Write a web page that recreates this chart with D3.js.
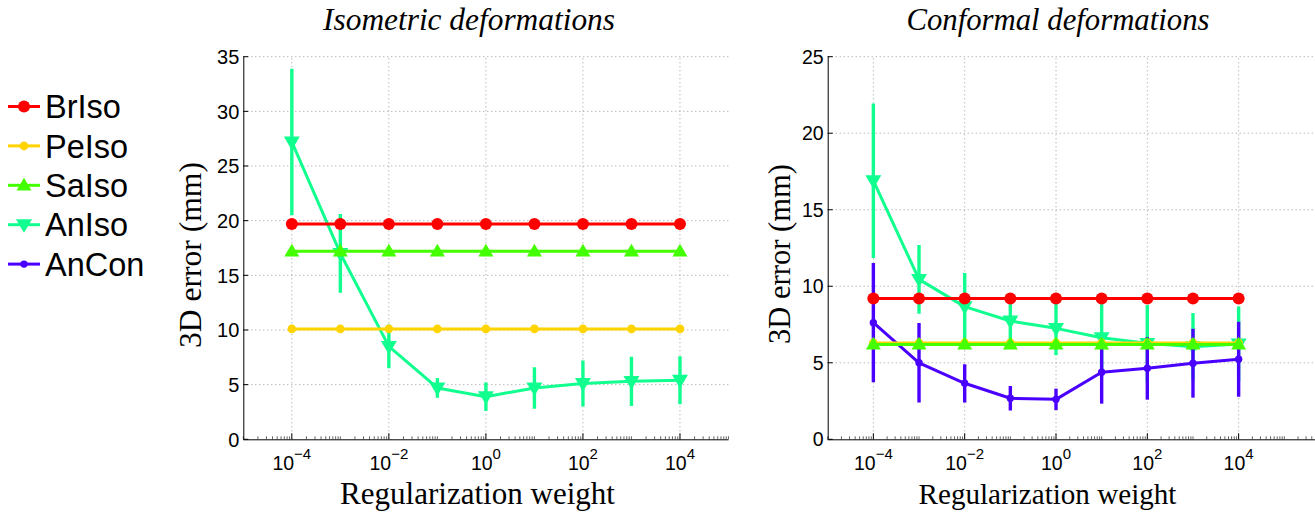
<!DOCTYPE html>
<html><head><meta charset="utf-8">
<script src="https://cdn.jsdelivr.net/npm/d3@7"></script>
<style>html,body{margin:0;padding:0;background:#fff;}svg{display:block;}</style>
</head><body>
<svg id="chart" width="1315" height="512"></svg>
<script>
// ---------- data ----------
const weights = [1e-4, 1e-3, 1e-2, 1e-1, 1e0, 1e1, 1e2, 1e3, 1e4];
const tickExponents = [-4, -2, 0, 2, 4];
const isoYTicks = [0, 5, 10, 15, 20, 25, 30, 35];
const confYTicks = [0, 5, 10, 15, 20, 25];

const seriesNames = ["BrIso", "PeIso", "SaIso", "AnIso", "AnCon"];
const seriesColors = ["#ff0000", "#ffd400", "#44ff00", "#11ff8e", "#4a00ff"];

// Isometric deformations
const isoBrIso = [19.7, 19.7, 19.7, 19.7, 19.7, 19.7, 19.7, 19.7, 19.7];
const isoPeIso = [10.1, 10.1, 10.1, 10.1, 10.1, 10.1, 10.1, 10.1, 10.1];
const isoSaIso = [17.2, 17.2, 17.2, 17.2, 17.2, 17.2, 17.2, 17.2, 17.2];
const isoAnIso = [27.2, 17.0, 8.5, 4.7, 3.9, 4.7, 5.1, 5.3, 5.4];
const isoAnIsoErr = [6.7, 3.6, 2.0, 0.9, 1.3, 1.9, 2.1, 2.25, 2.2];

// Conformal deformations
const confBrIso = [9.2, 9.2, 9.2, 9.2, 9.2, 9.2, 9.2, 9.2, 9.2];
const confPeIso = [6.3, 6.3, 6.3, 6.3, 6.3, 6.3, 6.3, 6.3, 6.3];
const confSaIso = [6.2, 6.2, 6.2, 6.2, 6.2, 6.2, 6.2, 6.2, 6.2];
const confAnIso = [16.9, 10.45, 8.67, 7.73, 7.25, 6.64, 6.27, 6.05, 6.23];
const confAnIsoErr = [5.05, 2.25, 2.2, 1.3, 1.75, 2.4, 2.5, 2.2, 2.45];
const confAnCon = [7.62, 5.0, 3.66, 2.68, 2.61, 4.38, 4.64, 4.97, 5.23];
const confAnConErr = [3.9, 2.6, 1.25, 0.8, 0.7, 2.05, 2.05, 2.25, 2.45];

// ---------- drawing ----------
const svg = d3.select("#chart");
const SANS = "'Liberation Sans', Arial, Helvetica, sans-serif";
const SERIF = "'Liberation Serif', 'Times New Roman', serif";

function fitText(t, target, base) {
  t.attr("font-size", base);
  const w = t.node().getComputedTextLength();
  t.attr("font-size", base * target / w);
}

function markerPath(type, size) {
  const w = size, h = size * 0.85;
  if (type === "triUp") return `M0,${-h*0.6}L${w/2},${h*0.4}L${-w/2},${h*0.4}Z`;
  if (type === "triDown") return `M0,${h*0.6}L${w/2},${-h*0.4}L${-w/2},${-h*0.4}Z`;
  return null;
}

const styles = {
  BrIso: {color: seriesColors[0], marker: "circle", r: 6},
  PeIso: {color: seriesColors[1], marker: "circle", r: 4.3},
  SaIso: {color: seriesColors[2], marker: "triUp", size: 15},
  AnIso: {color: seriesColors[3], marker: "triDown", size: 16},
  AnCon: {color: seriesColors[4], marker: "circle", r: 3.7}
};

function drawMarker(g, name, x, y) {
  const s = styles[name];
  if (s.marker === "circle") {
    g.append("circle").attr("cx", x).attr("cy", y).attr("r", s.r).attr("fill", s.color);
  } else {
    g.append("path").attr("d", markerPath(s.marker, s.size))
      .attr("transform", `translate(${x},${y})`).attr("fill", s.color);
  }
}

function panel(cfg) {
  const x = d3.scaleLog().domain(cfg.xDomain).range(cfg.xRange);
  const y = d3.scaleLinear().domain(cfg.yDomain).range([439.3, 56.7]);
  const g = svg.append("g");
  const x0 = cfg.xRange[0], x1 = cfg.xRange[1];
  const clipId = "clip" + cfg.id;
  svg.append("clipPath").attr("id", clipId).append("rect")
    .attr("x", x0 - 10).attr("y", 40).attr("width", x1 - x0 + 20).attr("height", 410);

  // grid
  const grid = g.append("g").attr("stroke", "#9a9a9a").attr("stroke-width", 1)
    .attr("stroke-dasharray", "1,3");
  cfg.yTicks.filter(v => v > 0).forEach(v => {
    grid.append("line").attr("x1", x0).attr("x2", x1).attr("y1", y(v)).attr("y2", y(v));
  });
  tickExponents.forEach(e => {
    const xv = x(Math.pow(10, e));
    grid.append("line").attr("x1", xv).attr("x2", xv).attr("y1", y(0)).attr("y2", y(cfg.yDomain[1]));
  });

  // axes
  const ax = g.append("g").attr("stroke", "#000").attr("stroke-width", 1).attr("fill", "none");
  ax.append("line").attr("x1", x0).attr("x2", x1).attr("y1", y(0) + 0.5).attr("y2", y(0) + 0.5);
  ax.append("line").attr("x1", x0 + 0.5).attr("x2", x0 + 0.5).attr("y1", y(0)).attr("y2", y(cfg.yDomain[1]));
  cfg.yTicks.forEach(v => {
    ax.append("line").attr("x1", x0).attr("x2", x0 + 5).attr("y1", y(v)).attr("y2", y(v));
  });
  const [lo, hi] = cfg.xDomain;
  for (let e = Math.floor(Math.log10(lo)); e <= Math.ceil(Math.log10(hi)); e++) {
    for (let m = 1; m <= 9; m++) {
      const v = m * Math.pow(10, e);
      if (v < lo || v > hi) continue;
      const major = m === 1 && tickExponents.includes(e);
      const len = major ? 6 : 3;
      ax.append("line").attr("x1", x(v)).attr("x2", x(v))
        .attr("y1", y(0)).attr("y2", y(0) - len).attr("stroke-width", major ? 1 : 0.6);
    }
  }
  cfg.yTicks.forEach(v => {
    g.append("text").attr("x", x0 - 4).attr("y", y(v)).attr("dy", "0.36em")
      .attr("text-anchor", "end").attr("font-family", SANS).attr("font-size", cfg.tickFont)
      .attr("fill", "#000").text(v);
  });
  tickExponents.forEach(e => {
    const t = g.append("text").attr("x", x(Math.pow(10, e))).attr("y", 469.5)
      .attr("text-anchor", "middle").attr("font-family", SANS).attr("font-size", 19.5).attr("fill", "#000");
    t.append("tspan").text("10");
    t.append("tspan").attr("font-size", 15).attr("dy", -11).text(e < 0 ? "\u2212" + (-e) : String(e));
  });

  // series
  const data = g.append("g").attr("clip-path", `url(#${clipId})`);
  const line = d3.line().x((d, i) => x(weights[i])).y(d => y(d));
  cfg.series.forEach(s => {
    const st = styles[s.name];
    const sg = data.append("g");
    if (s.err) {
      s.values.forEach((v, i) => {
        sg.append("line").attr("x1", x(weights[i])).attr("x2", x(weights[i]))
          .attr("y1", y(v - s.err[i])).attr("y2", y(v + s.err[i]))
          .attr("stroke", st.color).attr("stroke-width", 3.4);
      });
    }
    sg.append("path").datum(s.values).attr("d", line).attr("fill", "none")
      .attr("stroke", st.color).attr("stroke-width", 3).attr("stroke-linejoin", "round");
    s.values.forEach((v, i) => drawMarker(sg, s.name, x(weights[i]), y(v)));
  });

  const title = svg.append("text").attr("x", cfg.titleX).attr("y", 30).attr("text-anchor", "middle")
    .attr("font-family", SERIF).attr("font-style", "italic").attr("fill", "#000").text(cfg.title);
  fitText(title, cfg.titleW, 24);
  const xl = svg.append("text").attr("x", cfg.xlabX).attr("y", 504).attr("text-anchor", "middle")
    .attr("font-family", SERIF).attr("fill", "#000").text("Regularization weight");
  fitText(xl, cfg.xlabW, 26);
  const yl = svg.append("text").attr("transform", `translate(${cfg.ylabX},${cfg.ylabY}) rotate(-90)`)
    .attr("text-anchor", "middle").attr("font-family", SERIF).attr("fill", "#000").text("3D error (mm)");
  fitText(yl, cfg.ylabW, 26);
}

panel({
  id: "iso", xDomain: [1e-5, 1e5], xRange: [243.3, 728.5], yDomain: [0, 35], yTicks: isoYTicks,
  tickFont: 20,
  title: "Isometric deformations", titleX: 469, titleW: 292,
  xlabX: 477.5, xlabW: 275, ylabX: 201, ylabY: 255, ylabW: 186,
  series: [
    {name: "AnIso", values: isoAnIso, err: isoAnIsoErr},
    {name: "PeIso", values: isoPeIso},
    {name: "SaIso", values: isoSaIso},
    {name: "BrIso", values: isoBrIso}
  ]
});

panel({
  id: "conf", xDomain: [1e-5, Math.pow(10, 5.8)], xRange: [827.7, 827.7 + 10.8 * 45.66], yDomain: [0, 25], yTicks: confYTicks,
  tickFont: 19.5,
  title: "Conformal deformations", titleX: 1058, titleW: 303,
  xlabX: 1047.5, xlabW: 258, ylabX: 790, ylabY: 254, ylabW: 180,
  series: [
    {name: "AnIso", values: confAnIso, err: confAnIsoErr},
    {name: "AnCon", values: confAnCon, err: confAnConErr},
    {name: "PeIso", values: confPeIso},
    {name: "SaIso", values: confSaIso},
    {name: "BrIso", values: confBrIso}
  ]
});

// legend
const leg = svg.append("g");
seriesNames.forEach((n, i) => {
  const yy = 106.5 + i * 39.4;
  leg.append("line").attr("x1", 8).attr("x2", 40).attr("y1", yy).attr("y2", yy)
    .attr("stroke", styles[n].color).attr("stroke-width", 3);
  drawMarker(leg, n, 24, yy);
  leg.append("text").attr("x", 45).attr("y", yy).attr("dy", "0.36em")
    .attr("font-family", SANS).attr("font-size", 32.5).attr("fill", "#000").text(n);
});
</script>
</body></html>
